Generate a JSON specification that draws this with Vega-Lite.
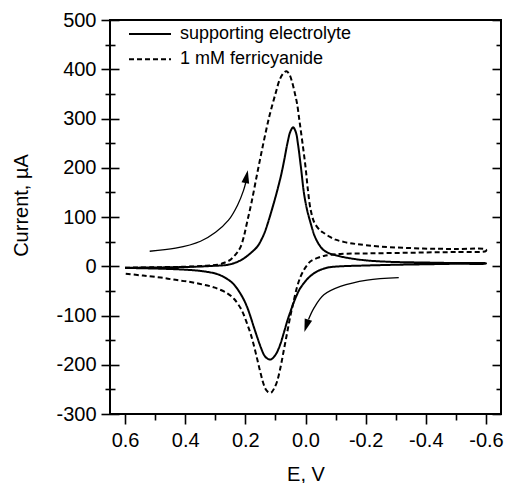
{
  "$schema": "https://vega.github.io/schema/vega-lite/v6.json",
  "width": 391,
  "height": 394,
  "autosize": {"type": "none"},
  "padding": {"left": 110, "top": 20, "right": 4, "bottom": 69},
  "background": "white",
  "view": {"stroke": "black", "strokeWidth": 2},
  "config": {
    "font": "Liberation Sans",
    "axis": {"domain": false, "grid": false, "tickColor": "black", "tickWidth": 1.6, "labelColor": "black", "titleColor": "black", "labelFont": "Liberation Sans", "titleFont": "Liberation Sans", "labelFontSize": 20, "titleFontSize": 20, "titleFontWeight": "normal", "labelFlush": false, "labelOverlap": false}
  },
  "datasets": {
    "cv": [
      {"series": "supporting electrolyte", "i": 0, "E": 0.6, "I": -3},
      {"series": "supporting electrolyte", "i": 1, "E": 0.5, "I": -2.5},
      {"series": "supporting electrolyte", "i": 2, "E": 0.4, "I": -1.5},
      {"series": "supporting electrolyte", "i": 3, "E": 0.35, "I": -0.5},
      {"series": "supporting electrolyte", "i": 4, "E": 0.3, "I": 1},
      {"series": "supporting electrolyte", "i": 5, "E": 0.27, "I": 2},
      {"series": "supporting electrolyte", "i": 6, "E": 0.25, "I": 4},
      {"series": "supporting electrolyte", "i": 7, "E": 0.23, "I": 8},
      {"series": "supporting electrolyte", "i": 8, "E": 0.216, "I": 12},
      {"series": "supporting electrolyte", "i": 9, "E": 0.2, "I": 18},
      {"series": "supporting electrolyte", "i": 10, "E": 0.18, "I": 28},
      {"series": "supporting electrolyte", "i": 11, "E": 0.16, "I": 40},
      {"series": "supporting electrolyte", "i": 12, "E": 0.145, "I": 56},
      {"series": "supporting electrolyte", "i": 13, "E": 0.135, "I": 70},
      {"series": "supporting electrolyte", "i": 14, "E": 0.125, "I": 88},
      {"series": "supporting electrolyte", "i": 15, "E": 0.115, "I": 108},
      {"series": "supporting electrolyte", "i": 16, "E": 0.1, "I": 140},
      {"series": "supporting electrolyte", "i": 17, "E": 0.09, "I": 163},
      {"series": "supporting electrolyte", "i": 18, "E": 0.08, "I": 188},
      {"series": "supporting electrolyte", "i": 19, "E": 0.07, "I": 218},
      {"series": "supporting electrolyte", "i": 20, "E": 0.06, "I": 250},
      {"series": "supporting electrolyte", "i": 21, "E": 0.05, "I": 274},
      {"series": "supporting electrolyte", "i": 22, "E": 0.041, "I": 282},
      {"series": "supporting electrolyte", "i": 23, "E": 0.032, "I": 272},
      {"series": "supporting electrolyte", "i": 24, "E": 0.025, "I": 248},
      {"series": "supporting electrolyte", "i": 25, "E": 0.015, "I": 200},
      {"series": "supporting electrolyte", "i": 26, "E": 0.005, "I": 148},
      {"series": "supporting electrolyte", "i": 27, "E": -0.005, "I": 115},
      {"series": "supporting electrolyte", "i": 28, "E": -0.015, "I": 92},
      {"series": "supporting electrolyte", "i": 29, "E": -0.03, "I": 62},
      {"series": "supporting electrolyte", "i": 30, "E": -0.045, "I": 44},
      {"series": "supporting electrolyte", "i": 31, "E": -0.06, "I": 33},
      {"series": "supporting electrolyte", "i": 32, "E": -0.08, "I": 26},
      {"series": "supporting electrolyte", "i": 33, "E": -0.116, "I": 20},
      {"series": "supporting electrolyte", "i": 34, "E": -0.15, "I": 16},
      {"series": "supporting electrolyte", "i": 35, "E": -0.2, "I": 12},
      {"series": "supporting electrolyte", "i": 36, "E": -0.28, "I": 9},
      {"series": "supporting electrolyte", "i": 37, "E": -0.4, "I": 7.5},
      {"series": "supporting electrolyte", "i": 38, "E": -0.5, "I": 6.5},
      {"series": "supporting electrolyte", "i": 39, "E": -0.6, "I": 6},
      {"series": "supporting electrolyte", "i": 40, "E": -0.6, "I": 5.5},
      {"series": "supporting electrolyte", "i": 41, "E": -0.5, "I": 5},
      {"series": "supporting electrolyte", "i": 42, "E": -0.4, "I": 4},
      {"series": "supporting electrolyte", "i": 43, "E": -0.3, "I": 3},
      {"series": "supporting electrolyte", "i": 44, "E": -0.2, "I": 1.5},
      {"series": "supporting electrolyte", "i": 45, "E": -0.12, "I": 0},
      {"series": "supporting electrolyte", "i": 46, "E": -0.08, "I": -2},
      {"series": "supporting electrolyte", "i": 47, "E": -0.06, "I": -5},
      {"series": "supporting electrolyte", "i": 48, "E": -0.04, "I": -10},
      {"series": "supporting electrolyte", "i": 49, "E": -0.02, "I": -18},
      {"series": "supporting electrolyte", "i": 50, "E": -0.006, "I": -26},
      {"series": "supporting electrolyte", "i": 51, "E": 0.01, "I": -38},
      {"series": "supporting electrolyte", "i": 52, "E": 0.02, "I": -47},
      {"series": "supporting electrolyte", "i": 53, "E": 0.03, "I": -60},
      {"series": "supporting electrolyte", "i": 54, "E": 0.04, "I": -75},
      {"series": "supporting electrolyte", "i": 55, "E": 0.05, "I": -92},
      {"series": "supporting electrolyte", "i": 56, "E": 0.06, "I": -110},
      {"series": "supporting electrolyte", "i": 57, "E": 0.072, "I": -135},
      {"series": "supporting electrolyte", "i": 58, "E": 0.083, "I": -157},
      {"series": "supporting electrolyte", "i": 59, "E": 0.095, "I": -175},
      {"series": "supporting electrolyte", "i": 60, "E": 0.105, "I": -184},
      {"series": "supporting electrolyte", "i": 61, "E": 0.114, "I": -189},
      {"series": "supporting electrolyte", "i": 62, "E": 0.122, "I": -189},
      {"series": "supporting electrolyte", "i": 63, "E": 0.13, "I": -186},
      {"series": "supporting electrolyte", "i": 64, "E": 0.138, "I": -180},
      {"series": "supporting electrolyte", "i": 65, "E": 0.149, "I": -164},
      {"series": "supporting electrolyte", "i": 66, "E": 0.16, "I": -145},
      {"series": "supporting electrolyte", "i": 67, "E": 0.172, "I": -123},
      {"series": "supporting electrolyte", "i": 68, "E": 0.183, "I": -102},
      {"series": "supporting electrolyte", "i": 69, "E": 0.194, "I": -83},
      {"series": "supporting electrolyte", "i": 70, "E": 0.205, "I": -68},
      {"series": "supporting electrolyte", "i": 71, "E": 0.216, "I": -56},
      {"series": "supporting electrolyte", "i": 72, "E": 0.238, "I": -37},
      {"series": "supporting electrolyte", "i": 73, "E": 0.26, "I": -26},
      {"series": "supporting electrolyte", "i": 74, "E": 0.293, "I": -16},
      {"series": "supporting electrolyte", "i": 75, "E": 0.349, "I": -9.5},
      {"series": "supporting electrolyte", "i": 76, "E": 0.4, "I": -7},
      {"series": "supporting electrolyte", "i": 77, "E": 0.459, "I": -5.4},
      {"series": "supporting electrolyte", "i": 78, "E": 0.53, "I": -4.2},
      {"series": "supporting electrolyte", "i": 79, "E": 0.6, "I": -3.4},
      {"series": "1 mM ferricyanide", "i": 0, "E": 0.6, "I": -3},
      {"series": "1 mM ferricyanide", "i": 1, "E": 0.5, "I": -2},
      {"series": "1 mM ferricyanide", "i": 2, "E": 0.4, "I": -1},
      {"series": "1 mM ferricyanide", "i": 3, "E": 0.33, "I": 1},
      {"series": "1 mM ferricyanide", "i": 4, "E": 0.293, "I": 3},
      {"series": "1 mM ferricyanide", "i": 5, "E": 0.27, "I": 7},
      {"series": "1 mM ferricyanide", "i": 6, "E": 0.25, "I": 13},
      {"series": "1 mM ferricyanide", "i": 7, "E": 0.238, "I": 20},
      {"series": "1 mM ferricyanide", "i": 8, "E": 0.227, "I": 28},
      {"series": "1 mM ferricyanide", "i": 9, "E": 0.216, "I": 39},
      {"series": "1 mM ferricyanide", "i": 10, "E": 0.205, "I": 60},
      {"series": "1 mM ferricyanide", "i": 11, "E": 0.194, "I": 90},
      {"series": "1 mM ferricyanide", "i": 12, "E": 0.18, "I": 128},
      {"series": "1 mM ferricyanide", "i": 13, "E": 0.16, "I": 190},
      {"series": "1 mM ferricyanide", "i": 14, "E": 0.14, "I": 250},
      {"series": "1 mM ferricyanide", "i": 15, "E": 0.12, "I": 305},
      {"series": "1 mM ferricyanide", "i": 16, "E": 0.1, "I": 350},
      {"series": "1 mM ferricyanide", "i": 17, "E": 0.085, "I": 380},
      {"series": "1 mM ferricyanide", "i": 18, "E": 0.072, "I": 393},
      {"series": "1 mM ferricyanide", "i": 19, "E": 0.063, "I": 396},
      {"series": "1 mM ferricyanide", "i": 20, "E": 0.054, "I": 390},
      {"series": "1 mM ferricyanide", "i": 21, "E": 0.045, "I": 375},
      {"series": "1 mM ferricyanide", "i": 22, "E": 0.035, "I": 350},
      {"series": "1 mM ferricyanide", "i": 23, "E": 0.028, "I": 330},
      {"series": "1 mM ferricyanide", "i": 24, "E": 0.02, "I": 295},
      {"series": "1 mM ferricyanide", "i": 25, "E": 0.01, "I": 250},
      {"series": "1 mM ferricyanide", "i": 26, "E": 0, "I": 202},
      {"series": "1 mM ferricyanide", "i": 27, "E": -0.008, "I": 155},
      {"series": "1 mM ferricyanide", "i": 28, "E": -0.017, "I": 115},
      {"series": "1 mM ferricyanide", "i": 29, "E": -0.03, "I": 88},
      {"series": "1 mM ferricyanide", "i": 30, "E": -0.05, "I": 72},
      {"series": "1 mM ferricyanide", "i": 31, "E": -0.06, "I": 68},
      {"series": "1 mM ferricyanide", "i": 32, "E": -0.08, "I": 60},
      {"series": "1 mM ferricyanide", "i": 33, "E": -0.1, "I": 54},
      {"series": "1 mM ferricyanide", "i": 34, "E": -0.13, "I": 49},
      {"series": "1 mM ferricyanide", "i": 35, "E": -0.17, "I": 45},
      {"series": "1 mM ferricyanide", "i": 36, "E": -0.25, "I": 40},
      {"series": "1 mM ferricyanide", "i": 37, "E": -0.39, "I": 36},
      {"series": "1 mM ferricyanide", "i": 38, "E": -0.5, "I": 35},
      {"series": "1 mM ferricyanide", "i": 39, "E": -0.6, "I": 34},
      {"series": "1 mM ferricyanide", "i": 40, "E": -0.6, "I": 31},
      {"series": "1 mM ferricyanide", "i": 41, "E": -0.5, "I": 29},
      {"series": "1 mM ferricyanide", "i": 42, "E": -0.4, "I": 28},
      {"series": "1 mM ferricyanide", "i": 43, "E": -0.3, "I": 27},
      {"series": "1 mM ferricyanide", "i": 44, "E": -0.2, "I": 26},
      {"series": "1 mM ferricyanide", "i": 45, "E": -0.116, "I": 25},
      {"series": "1 mM ferricyanide", "i": 46, "E": -0.08, "I": 23},
      {"series": "1 mM ferricyanide", "i": 47, "E": -0.061, "I": 21},
      {"series": "1 mM ferricyanide", "i": 48, "E": -0.04, "I": 17},
      {"series": "1 mM ferricyanide", "i": 49, "E": -0.017, "I": 10},
      {"series": "1 mM ferricyanide", "i": 50, "E": -0.005, "I": 2},
      {"series": "1 mM ferricyanide", "i": 51, "E": 0.006, "I": -8},
      {"series": "1 mM ferricyanide", "i": 52, "E": 0.017, "I": -22},
      {"series": "1 mM ferricyanide", "i": 53, "E": 0.028, "I": -42},
      {"series": "1 mM ferricyanide", "i": 54, "E": 0.039, "I": -70},
      {"series": "1 mM ferricyanide", "i": 55, "E": 0.05, "I": -100},
      {"series": "1 mM ferricyanide", "i": 56, "E": 0.061, "I": -135},
      {"series": "1 mM ferricyanide", "i": 57, "E": 0.072, "I": -170},
      {"series": "1 mM ferricyanide", "i": 58, "E": 0.083, "I": -205},
      {"series": "1 mM ferricyanide", "i": 59, "E": 0.095, "I": -235},
      {"series": "1 mM ferricyanide", "i": 60, "E": 0.105, "I": -249},
      {"series": "1 mM ferricyanide", "i": 61, "E": 0.113, "I": -256},
      {"series": "1 mM ferricyanide", "i": 62, "E": 0.118, "I": -257},
      {"series": "1 mM ferricyanide", "i": 63, "E": 0.125, "I": -255},
      {"series": "1 mM ferricyanide", "i": 64, "E": 0.133, "I": -249},
      {"series": "1 mM ferricyanide", "i": 65, "E": 0.141, "I": -236},
      {"series": "1 mM ferricyanide", "i": 66, "E": 0.149, "I": -218},
      {"series": "1 mM ferricyanide", "i": 67, "E": 0.16, "I": -190},
      {"series": "1 mM ferricyanide", "i": 68, "E": 0.172, "I": -160},
      {"series": "1 mM ferricyanide", "i": 69, "E": 0.183, "I": -136},
      {"series": "1 mM ferricyanide", "i": 70, "E": 0.194, "I": -117},
      {"series": "1 mM ferricyanide", "i": 71, "E": 0.205, "I": -99},
      {"series": "1 mM ferricyanide", "i": 72, "E": 0.216, "I": -85},
      {"series": "1 mM ferricyanide", "i": 73, "E": 0.238, "I": -66},
      {"series": "1 mM ferricyanide", "i": 74, "E": 0.26, "I": -55},
      {"series": "1 mM ferricyanide", "i": 75, "E": 0.304, "I": -43},
      {"series": "1 mM ferricyanide", "i": 76, "E": 0.35, "I": -36},
      {"series": "1 mM ferricyanide", "i": 77, "E": 0.393, "I": -31},
      {"series": "1 mM ferricyanide", "i": 78, "E": 0.44, "I": -27},
      {"series": "1 mM ferricyanide", "i": 79, "E": 0.481, "I": -23},
      {"series": "1 mM ferricyanide", "i": 80, "E": 0.54, "I": -19},
      {"series": "1 mM ferricyanide", "i": 81, "E": 0.6, "I": -15}
    ],
    "arrows": [
      {"arrow": "a1", "i": 0, "E": 0.518, "I": 30.5},
      {"arrow": "a1", "i": 1, "E": 0.432, "I": 36.6},
      {"arrow": "a1", "i": 2, "E": 0.349, "I": 50.8},
      {"arrow": "a1", "i": 3, "E": 0.299, "I": 69},
      {"arrow": "a1", "i": 4, "E": 0.256, "I": 93.5},
      {"arrow": "a1", "i": 5, "E": 0.226, "I": 124},
      {"arrow": "a1", "i": 6, "E": 0.206, "I": 154},
      {"arrow": "a1", "i": 7, "E": 0.198, "I": 172},
      {"arrow": "a2", "i": 0, "E": -0.31, "I": -23},
      {"arrow": "a2", "i": 1, "E": -0.205, "I": -28},
      {"arrow": "a2", "i": 2, "E": -0.116, "I": -41},
      {"arrow": "a2", "i": 3, "E": -0.061, "I": -58},
      {"arrow": "a2", "i": 4, "E": -0.028, "I": -85},
      {"arrow": "a2", "i": 5, "E": -0.01, "I": -108}
    ],
    "heads": [
      {"arrow": "a1", "E": 0.196, "I": 182},
      {"arrow": "a2", "E": -0.003, "I": -121}
    ]
  },
  "layer": [
    {
      "data": {"name": "cv"},
      "mark": {"type": "line", "color": "black", "strokeWidth": 2, "interpolate": "catmull-rom"},
      "encoding": {
        "x": {"field": "E", "type": "quantitative",
          "scale": {"domain": [-0.65, 0.65], "reverse": true, "nice": false, "zero": false},
          "axis": {"orient": "bottom", "values": [0.6, 0.4, 0.2, 0, -0.2, -0.4, -0.6], "tickSize": 10, "labelPadding": 6,
            "labelExpr": "datum.value < -0.001 ? '-' + format(-datum.value, '.1f') : format(abs(datum.value), '.1f')",
            "title": "E, V", "titlePadding": 14}},
        "y": {"field": "I", "type": "quantitative",
          "scale": {"domain": [-300, 500], "nice": false, "zero": false},
          "axis": {"orient": "left", "values": [-300, -200, -100, 0, 100, 200, 300, 400, 500], "tickSize": 18, "offset": -9, "labelPadding": 5,
            "labelExpr": "datum.value < 0 ? '-' + format(-datum.value, 'd') : format(datum.value, 'd')",
            "title": "Current, µA", "titleX": -88, "titleY": 185}},
        "strokeDash": {"field": "series", "type": "nominal",
          "scale": {"domain": ["supporting electrolyte", "1 mM ferricyanide"], "range": [[1, 0], [5, 3]]},
          "legend": {"title": null, "orient": "none", "legendX": 18, "legendY": 6, "symbolType": "stroke", "symbolSize": 1764,
            "symbolStrokeWidth": 2, "symbolStrokeColor": "black", "clipHeight": 16, "rowPadding": 7.3, "labelOffset": 8,
            "labelFontSize": 18, "labelFont": "Liberation Sans", "labelColor": "black", "labelLimit": 400, "padding": 0, "labelBaseline": "middle"}},
        "order": {"field": "i", "type": "quantitative"}
      }
    },
    {
      "data": {"name": "arrows"},
      "mark": {"type": "line", "color": "black", "strokeWidth": 1.3, "interpolate": "catmull-rom"},
      "encoding": {
        "x": {"field": "E", "type": "quantitative",
          "scale": {"domain": [-0.65, 0.65], "reverse": true, "nice": false, "zero": false},
          "axis": {"orient": "bottom", "values": [0.5, 0.3, 0.1, -0.1, -0.3, -0.5], "tickSize": 6, "labels": false, "title": null}},
        "y": {"field": "I", "type": "quantitative",
          "scale": {"domain": [-300, 500], "nice": false, "zero": false},
          "axis": {"orient": "left", "values": [-250, -150, -50, 50, 150, 250, 350, 450], "tickSize": 10, "offset": -5, "labels": false, "title": null}},
        "detail": {"field": "arrow", "type": "nominal"},
        "order": {"field": "i", "type": "quantitative"}
      }
    },
    {
      "data": {"name": "heads"},
      "transform": [{"filter": "datum.arrow == 'a1'"}],
      "mark": {"type": "point", "shape": "M0,-1L0.6,1L-0.6,1Z", "filled": true, "color": "black", "opacity": 1, "size": 169, "angle": 11},
      "encoding": {
        "x": {"field": "E", "type": "quantitative",
          "scale": {"domain": [-0.65, 0.65], "reverse": true, "nice": false, "zero": false}, "axis": null},
        "y": {"field": "I", "type": "quantitative",
          "scale": {"domain": [-300, 500], "nice": false, "zero": false},
          "axis": {"orient": "right", "values": [-300, -200, -100, 0, 100, 200, 300, 400, 500], "tickSize": 9, "offset": -9, "labels": false, "title": null}}
      }
    },
    {
      "data": {"name": "heads"},
      "transform": [{"filter": "datum.arrow == 'a2'"}],
      "mark": {"type": "point", "shape": "M0,-1L0.6,1L-0.6,1Z", "filled": true, "color": "black", "opacity": 1, "size": 169, "angle": 198},
      "encoding": {
        "x": {"field": "E", "type": "quantitative",
          "scale": {"domain": [-0.65, 0.65], "reverse": true, "nice": false, "zero": false}, "axis": null},
        "y": {"field": "I", "type": "quantitative",
          "scale": {"domain": [-300, 500], "nice": false, "zero": false},
          "axis": {"orient": "right", "values": [-250, -150, -50, 50, 150, 250, 350, 450], "tickSize": 5, "offset": -5, "labels": false, "title": null}}
      }
    }
  ],
  "resolve": {"axis": {"x": "independent", "y": "independent"}}
}
